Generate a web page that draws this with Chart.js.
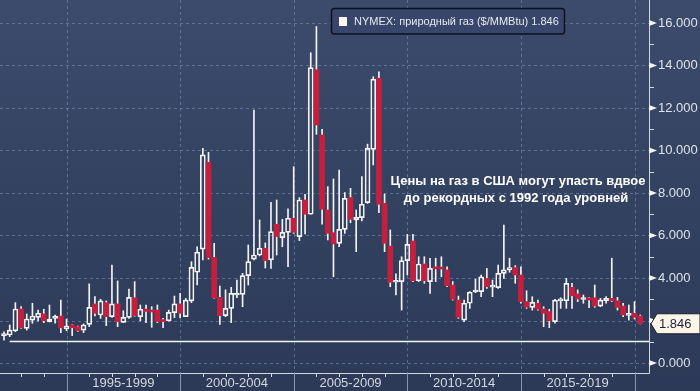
<!DOCTYPE html>
<html lang="ru">
<head>
<meta charset="UTF-8">
<title>NYMEX: природный газ</title>
<script src="https://cdn.jsdelivr.net/npm/chart.js"></script>
<style>
  html, body { margin: 0; padding: 0; background: #33415f; overflow: hidden; }
  #wrap { width: 700px; height: 391px; }
</style>
</head>
<body>
<div id="wrap"><canvas id="gas"></canvas></div>
<script>
// Квартальные свечи, первая - 2-й квартал 1992 года
const firstQuarter = 1992.25;

const opens = [
  1.29, 1.32, 1.52, 2.54, 1.63, 2.02, 2.15, 2.31, 1.95, 2.10,
  2.21, 1.60, 1.79, 1.71, 1.55, 1.82, 2.78, 2.26, 2.84, 2.18,
  2.78, 1.91, 2.15, 3.07, 2.18, 2.53, 2.49, 2.49, 2.02, 1.99,
  2.37, 2.78, 2.18, 2.92, 4.27, 5.36, 9.44, 4.97, 3.09, 2.23,
  2.57, 3.20, 3.23, 4.11, 4.89, 5.08, 5.40, 4.85, 6.53, 5.90,
  6.15, 6.81, 5.95, 7.67, 7.00, 13.80, 10.73, 7.20, 6.13, 5.63,
  6.29, 7.78, 6.73, 6.84, 7.55, 10.05, 13.40, 7.51, 5.50, 3.80,
  3.83, 4.82, 5.74, 3.87, 4.66, 3.83, 4.47, 4.47, 4.38, 3.67,
  2.96, 2.02, 2.81, 3.34, 3.36, 3.98, 3.57, 3.55, 4.22, 4.38,
  4.49, 4.14, 2.89, 2.62, 2.81, 2.54, 2.42, 1.95, 2.92, 2.93,
  3.56, 3.25, 2.99, 3.07, 3.07, 2.68, 2.93, 3.04, 2.93, 2.68,
  2.24, 2.34, 2.21
];
const highs = [
  1.47, 1.79, 2.84, 2.65, 2.31, 2.81, 2.49, 2.53, 2.73, 2.26,
  2.96, 2.07, 1.80, 1.74, 1.84, 3.72, 3.12, 3.00, 2.92, 4.61,
  3.86, 2.46, 3.48, 3.83, 2.73, 2.73, 2.65, 2.73, 2.10, 2.49,
  3.15, 3.28, 3.04, 4.77, 5.47, 10.10, 9.91, 5.63, 3.62, 3.44,
  3.56, 3.90, 4.22, 5.55, 11.90, 6.73, 5.65, 7.56, 7.67, 6.76,
  7.25, 9.24, 7.78, 7.94, 14.60, 15.83, 11.00, 8.30, 8.66, 9.08,
  8.02, 8.22, 7.20, 8.77, 10.30, 13.47, 13.70, 7.95, 6.26, 4.20,
  5.00, 6.05, 6.05, 5.00, 5.00, 4.93, 4.93, 5.00, 4.53, 3.83,
  3.15, 2.96, 3.36, 3.94, 4.14, 4.45, 3.90, 4.61, 6.49, 4.93,
  4.58, 4.53, 3.40, 3.12, 2.96, 2.65, 2.53, 3.00, 3.07, 3.98,
  3.75, 3.44, 3.20, 3.09, 3.67, 3.04, 3.12, 4.93, 3.09, 2.81,
  2.73, 2.89, 2.26
];
const lows = [
  1.08, 1.24, 1.47, 1.63, 1.55, 1.87, 1.98, 1.90, 1.93, 1.87,
  1.43, 1.52, 1.29, 1.49, 1.43, 1.71, 2.21, 2.10, 1.76, 2.15,
  1.71, 1.90, 2.10, 2.20, 1.98, 1.90, 1.68, 1.90, 1.66, 1.97,
  2.13, 2.13, 2.18, 2.84, 3.67, 4.85, 4.89, 3.05, 1.82, 2.18,
  1.90, 3.07, 2.65, 3.67, 4.85, 5.04, 4.47, 4.45, 5.08, 5.47,
  4.53, 6.10, 5.76, 6.07, 7.00, 10.76, 6.53, 5.79, 4.06, 5.47,
  6.10, 6.60, 5.24, 6.68, 7.51, 9.32, 7.07, 5.24, 3.59, 3.20,
  2.49, 4.14, 3.83, 3.83, 3.75, 3.28, 3.83, 4.06, 3.59, 2.96,
  2.10, 1.95, 2.57, 3.31, 3.12, 3.51, 3.12, 3.51, 3.98, 4.27,
  3.75, 2.81, 2.57, 2.49, 2.49, 1.71, 1.66, 1.87, 2.57, 2.57,
  2.57, 2.89, 2.81, 2.60, 2.62, 2.65, 2.81, 2.89, 2.49, 2.18,
  2.02, 2.07, 1.84
];
const closes = [
  1.35, 1.55, 2.54, 1.66, 2.07, 2.21, 2.34, 1.99, 2.07, 2.21,
  1.66, 1.74, 1.66, 1.52, 1.79, 2.62, 2.34, 2.92, 2.18, 2.78,
  1.95, 2.15, 3.09, 2.23, 2.53, 2.43, 2.40, 1.95, 1.95, 2.38,
  2.78, 2.34, 2.96, 4.50, 5.21, 9.79, 4.96, 3.07, 2.23, 2.57,
  3.28, 3.25, 4.11, 4.77, 5.08, 5.40, 4.82, 6.18, 5.95, 6.15,
  6.81, 6.15, 7.67, 7.00, 13.90, 11.20, 7.23, 6.10, 5.60, 6.29,
  7.75, 6.76, 6.86, 7.47, 10.10, 13.35, 7.47, 5.63, 3.80, 3.85,
  4.82, 5.58, 3.87, 4.66, 3.87, 4.45, 4.43, 4.42, 3.64, 3.00,
  2.15, 2.81, 3.33, 3.38, 4.06, 3.59, 3.61, 4.22, 4.38, 4.49,
  4.14, 2.89, 2.62, 2.85, 2.53, 2.34, 1.99, 2.96, 3.00, 3.75,
  3.17, 3.01, 3.03, 2.96, 2.68, 2.96, 3.04, 2.93, 2.62, 2.26,
  2.28, 2.15, 1.846
];

const periodLabels = ['1995-1999', '2000-2004', '2005-2009', '2010-2014', '2015-2019'];
const periodStarts = [1995, 2000, 2005, 2010, 2015, 2020];
const yearTicks = [1993, 1994, 1995, 1996, 1997, 1998, 1999, 2000, 2001, 2002,
  2003, 2004, 2005, 2006, 2007, 2008, 2009, 2010, 2011, 2012, 2013, 2014,
  2015, 2016, 2017, 2018, 2019, 2020];
const yTicks = [0, 2, 4, 6, 8, 10, 12, 14, 16];
const yMinorTicks = [1, 3, 5, 7, 9, 11, 13, 15];

const lastPrice = 1.846;
const lowLevel = 1.04;       // минимум 1992 года
const lowLevelFrom = 1992.5;

const seriesName = 'NYMEX: природный газ ($/MMBtu)';
const noteLines = ['Цены на газ в США могут упасть вдвое', 'до рекордных с 1992 года уровней'];

const RED = '#c61f3e';
const WHITE = '#f4f4f4';
const FONT = "'Liberation Sans', Arial, sans-serif";

// Данные для баров: тела и тени свечей
const qx = opens.map((_, i) => firstQuarter + i * 0.25);
const isUp = opens.map((o, i) => closes[i] >= o);
const bodies = opens.map((o, i) => ({ x: qx[i], y: [o, closes[i]] }));
const upperWicks = highs.map((h, i) => ({ x: qx[i], y: [Math.max(opens[i], closes[i]), h] }));
const lowerWicks = lows.map((l, i) => ({ x: qx[i], y: [l, Math.min(opens[i], closes[i])] }));

// Фон, сетка, оси, подписи
const decor = {
  id: 'decor',
  beforeDraw(chart) {
    const { ctx, width, height } = chart;
    const g = ctx.createLinearGradient(0, 0, 0, height);
    g.addColorStop(0, '#3c4b6c');
    g.addColorStop(1, '#2c3957');
    ctx.save();
    ctx.fillStyle = g;
    ctx.fillRect(0, 0, width, height);
    ctx.restore();
  },
  beforeDatasetsDraw(chart) {
    const { ctx, chartArea: a, scales: { x, y } } = chart;
    ctx.save();
    ctx.strokeStyle = 'rgba(120,142,178,0.6)';
    ctx.lineWidth = 1;
    ctx.setLineDash([3, 3]);
    yTicks.forEach(v => {
      const py = Math.round(y.getPixelForValue(v)) + 0.5;
      ctx.beginPath(); ctx.moveTo(a.left, py); ctx.lineTo(a.right, py); ctx.stroke();
    });
    periodStarts.forEach(v => {
      const px = Math.round(x.getPixelForValue(v)) + 0.5;
      ctx.beginPath(); ctx.moveTo(px, a.top); ctx.lineTo(px, a.bottom); ctx.stroke();
    });
    ctx.restore();
  },
  afterDatasetsDraw(chart) {
    const { ctx, chartArea: a, scales: { x, y }, height } = chart;
    ctx.save();

    // линия минимума 1992 года
    const ly = Math.round(y.getPixelForValue(lowLevel)) + 0.5;
    ctx.strokeStyle = WHITE;
    ctx.lineWidth = 1.5;
    ctx.beginPath(); ctx.moveTo(x.getPixelForValue(lowLevelFrom), ly); ctx.lineTo(a.right, ly); ctx.stroke();

    // оси
    ctx.lineWidth = 1;
    ctx.strokeStyle = '#d3d7df';
    ctx.beginPath();
    ctx.moveTo(a.left, a.bottom + 0.5); ctx.lineTo(a.right + 0.5, a.bottom + 0.5);
    ctx.moveTo(a.right + 0.5, a.top); ctx.lineTo(a.right + 0.5, a.bottom + 0.5);
    ctx.stroke();

    // годовые засечки и разделители периодов
    yearTicks.forEach(v => {
      const px = Math.round(x.getPixelForValue(v)) + 0.5;
      const long = periodStarts.includes(v);
      ctx.strokeStyle = long ? '#8c96a8' : '#d3d7df';
      ctx.beginPath(); ctx.moveTo(px, a.bottom); ctx.lineTo(px, long ? height : a.bottom + 4); ctx.stroke();
    });

    // засечки оси Y
    ctx.strokeStyle = '#d3d7df';
    yMinorTicks.forEach(v => {
      const py = Math.round(y.getPixelForValue(v)) + 0.5;
      ctx.beginPath(); ctx.moveTo(a.right, py); ctx.lineTo(a.right + 5, py); ctx.stroke();
    });
    ctx.fillStyle = WHITE;
    yTicks.forEach(v => {
      const py = y.getPixelForValue(v);
      ctx.beginPath();
      ctx.moveTo(a.right, py - 3); ctx.lineTo(a.right + 8, py); ctx.lineTo(a.right, py + 3);
      ctx.closePath(); ctx.fill();
    });

    // метка последнего значения
    const py = y.getPixelForValue(lastPrice);
    ctx.beginPath();
    ctx.moveTo(a.right + 2, py);
    ctx.lineTo(a.right + 8, py - 10);
    ctx.lineTo(chart.width, py - 10);
    ctx.lineTo(chart.width, py + 10);
    ctx.lineTo(a.right + 8, py + 10);
    ctx.closePath();
    ctx.fillStyle = '#fdf5e8';
    ctx.fill();
    ctx.strokeStyle = '#1b2133';
    ctx.stroke();
    ctx.fillStyle = '#1b2238';
    ctx.font = '13px ' + FONT;
    ctx.textBaseline = 'middle';
    ctx.textAlign = 'left';
    ctx.fillText(lastPrice.toFixed(3), a.right + 10, py + 1);

    // легенда
    ctx.beginPath();
    ctx.roundRect(331.5, 8.5, 233, 25.5, 3);
    ctx.fillStyle = '#37466a';
    ctx.fill();
    ctx.strokeStyle = '#0e1220';
    ctx.lineWidth = 1.5;
    ctx.stroke();
    ctx.fillStyle = '#fff6ef';
    ctx.fillRect(339, 17, 8, 9);
    ctx.fillStyle = '#e6e8ee';
    ctx.font = '11px ' + FONT;
    ctx.fillText(seriesName + ' ' + lastPrice.toFixed(3), 354, 22);

    // аннотация
    ctx.fillStyle = '#ffffff';
    ctx.font = 'bold 13px ' + FONT;
    ctx.textAlign = 'center';
    ctx.textBaseline = 'alphabetic';
    ctx.fillText(noteLines[0], 518, 185);
    ctx.fillText(noteLines[1], 516, 202);

    ctx.restore();
  }
};

new Chart(document.getElementById('gas'), {
  type: 'bar',
  data: {
    datasets: [
      {
        label: seriesName,
        data: bodies,
        grouped: false,
        barThickness: 5,
        minBarLength: 2,
        borderSkipped: false,
        backgroundColor: c => isUp[c.dataIndex] ? 'rgba(0,0,0,0)' : RED,
        borderColor: c => isUp[c.dataIndex] ? WHITE : RED,
        borderWidth: c => isUp[c.dataIndex] ? 1 : 0
      },
      {
        label: 'upper',
        data: upperWicks,
        grouped: false,
        barThickness: 1,
        backgroundColor: WHITE,
        borderWidth: 0
      },
      {
        label: 'lower',
        data: lowerWicks,
        grouped: false,
        barThickness: 1,
        backgroundColor: WHITE,
        borderWidth: 0
      }
    ]
  },
  options: {
    responsive: true,
    maintainAspectRatio: false,
    animation: false,
    layout: { padding: 0 },
    plugins: { legend: { display: false }, tooltip: { enabled: false } },
    scales: {
      x: {
        type: 'linear',
        min: 1992.073,
        max: 2020.638,
        offset: false,
        grid: { display: false, drawTicks: false },
        border: { display: false },
        afterBuildTicks: s => {
          s.ticks = periodLabels.map((_, i) => ({ value: (periodStarts[i] + periodStarts[i + 1]) / 2 }));
        },
        ticks: {
          callback: (v, i) => periodLabels[i],
          color: '#d4d8e0',
          font: { family: FONT, size: 13 },
          padding: 3,
          maxRotation: 0,
          autoSkip: false
        },
        afterFit: s => {
          s.height = 18;
          s.paddingLeft = 0; s.paddingRight = 0;
        }
      },
      y: {
        position: 'right',
        min: -0.47,
        max: 17.08,
        grid: { display: false, drawTicks: false },
        border: { display: false },
        afterBuildTicks: s => { s.ticks = yTicks.map(v => ({ value: v })); },
        ticks: {
          callback: v => v.toFixed(3),
          color: '#dfe2e8',
          font: { family: FONT, size: 13 },
          padding: 9
        },
        afterFit: s => {
          s.width = 51;
          s.paddingTop = 0; s.paddingBottom = 0;
        }
      }
    }
  },
  plugins: [decor]
});
</script>
</body>
</html>
